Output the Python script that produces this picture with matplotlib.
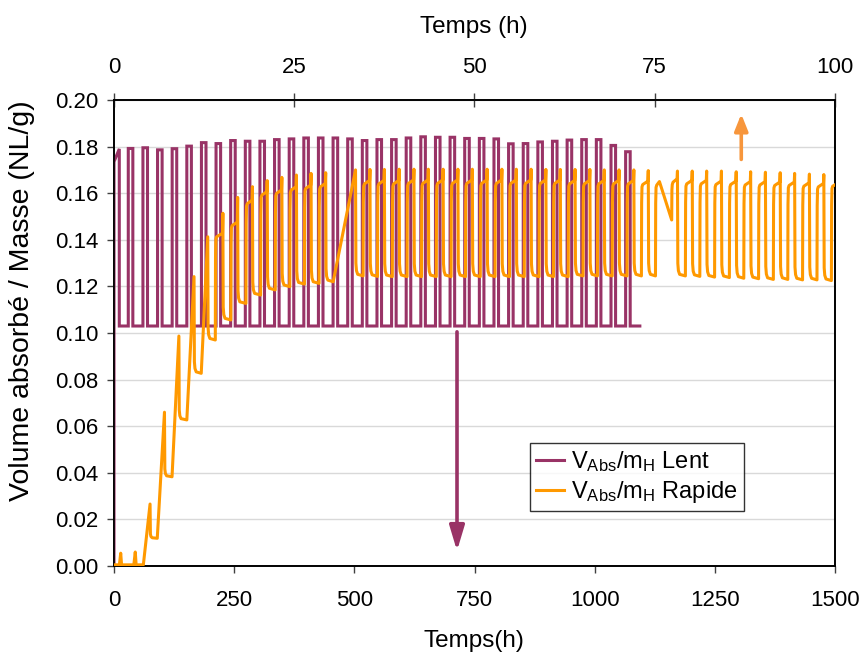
import numpy as np
import matplotlib
matplotlib.use("Agg")
import matplotlib.pyplot as plt
from matplotlib.lines import Line2D

plt.rcParams['font.family'] = ['Liberation Sans', 'DejaVu Sans']
plt.rcParams['mathtext.fontset'] = 'custom'
plt.rcParams['mathtext.rm'] = 'Liberation Sans'
plt.rcParams['mathtext.it'] = 'Liberation Sans:italic'

# ---------------- data ----------------
# "Lent" series (bottom axis, hours): start of each absorption plateau and its level
lent_start = [0, 29.7, 60.2, 90.6, 121.0, 151.5, 181.9, 212.3, 242.7, 273.2, 303.6,
              334.0, 364.5, 394.9, 425.3, 455.8, 486.2, 516.6, 547.1, 577.5, 607.9,
              638.3, 668.8, 699.2, 729.6, 760.1, 790.5, 820.9, 851.4, 881.8, 912.2,
              942.7, 973.1, 1003.5, 1034.0, 1064.4]
lent_high = [0.1790, 0.1792, 0.1795, 0.1786, 0.1791, 0.1802, 0.1817, 0.1813, 0.1826,
             0.1823, 0.1823, 0.1830, 0.1833, 0.1837, 0.1837, 0.1837, 0.1833, 0.1826,
             0.1830, 0.1830, 0.1837, 0.1842, 0.1840, 0.1840, 0.1835, 0.1835, 0.1833,
             0.1812, 0.1813, 0.1820, 0.1823, 0.1828, 0.1830, 0.1830, 0.1805, 0.1778]
lent_high_dur = [11.0] + [9.5] * 35
lent_first = 0.1735
lent_low = 0.103
lent_end = 1094.0

# "Rapide" series (top axis, hours): per cycle rise start, spike time, floor, plateau, spike
rap_rise = [0.75, 2.75, 4.07, 6.0, 8.05, 10.1, 12.1, 14.05, 16.2, 18.3, 20.33, 22.36,
            24.38, 26.41, 28.44, 30.4,
            34.55, 36.55, 38.6, 40.65, 42.65, 44.7, 46.75, 48.75, 50.8, 52.85,
            54.85, 56.9, 58.95, 60.95, 63.0, 65.05, 67.05, 69.1, 71.15, 73.15,
            75.1, 77.35,
            79.25, 81.25, 83.3, 85.35, 87.35, 89.4, 91.45, 93.45, 95.5, 97.5, 99.5]
rap_t = [0.93, 2.95, 5.0, 7.0, 9.0, 11.1, 13.0, 15.1, 17.15, 19.2, 21.25, 23.28,
         25.3, 27.33, 29.36, 33.5,
         35.5, 37.5, 39.55, 41.6, 43.6, 45.65, 47.7, 49.7, 51.75, 53.8,
         55.8, 57.85, 59.9, 61.9, 63.95, 66.0, 68.0, 70.05, 72.1, 74.1,
         75.7, 78.15,
         80.2, 82.2, 84.25, 86.3, 88.3, 90.35, 92.4, 94.4, 96.45, 98.45, 100.5]
rap_floor = [0.0005, 0.0005, 0.0005, 0.0119, 0.0383, 0.0627, 0.0827, 0.0970, 0.1056,
             0.1127, 0.1163, 0.1185, 0.1199, 0.1210, 0.1213, 0.1220,
             0.1245, 0.1243, 0.1242, 0.1242, 0.1242, 0.1242, 0.1242, 0.1242, 0.1242,
             0.1242, 0.1242, 0.1242, 0.1242, 0.1242, 0.1242, 0.1245, 0.1245, 0.1245,
             0.1245, 0.1245,
             0.1245, 0.1485,
             0.1245, 0.1243, 0.1240, 0.1238, 0.1235, 0.1233, 0.1230, 0.1230, 0.1228,
             0.1228, 0.1225]
rap_plat = [np.nan, np.nan, np.nan, np.nan, np.nan, np.nan, np.nan, 0.1428, 0.1476,
            0.1570, 0.1607, 0.1614, 0.1628, 0.1635, 0.1642, np.nan,
            0.1655, 0.1655, 0.1655, 0.1657, 0.1657, 0.1657, 0.1657, 0.1657, 0.1657,
            0.1657, 0.1657, 0.1657, 0.1657, 0.1657, 0.1655, 0.1655, 0.1655, 0.1655,
            0.1655, 0.1652,
            0.1650, 0.1662,
            0.1655, 0.1655, 0.1652, 0.1652, 0.1650, 0.1650, 0.1648, 0.1648, 0.1645,
            0.1642, 0.1645]
rap_peak = [0.0055, 0.0060, 0.0266, 0.0660, 0.0987, 0.1242, 0.1413, 0.1514, 0.1582,
            0.1628, 0.1654, 0.1668, 0.1678, 0.1685, 0.1688, 0.1700,
            0.1702, 0.1702, 0.1703, 0.1703, 0.1703, 0.1703, 0.1703, 0.1703, 0.1703,
            0.1703, 0.1703, 0.1703, 0.1702, 0.1702, 0.1702, 0.1702, 0.1700, 0.1700,
            0.1700, 0.1697,
            np.nan, 0.1695,
            0.1695, 0.1695, 0.1695, 0.1692, 0.1692, 0.1690, 0.1688, 0.1685, 0.1682,
            0.1680, 0.1685]

lent_color = '#993366'
rap_color = '#FF9900'

# ---------------- build traces ----------------
lt, lv = [0.0], [0.0]
for k, (ts, hv, hd) in enumerate(zip(lent_start, lent_high, lent_high_dur)):
    if k == 0:
        lt += [ts, ts + hd, ts + hd]
        lv += [lent_first, hv, lent_low]
    else:
        lt += [ts, ts, ts + hd, ts + hd]
        lv += [lent_low, hv, hv, lent_low]
lt.append(lent_end)
lv.append(lent_low)

rt, rv = [0.0], [0.0005]
n = len(rap_t)
for i in range(n):
    rs, ts, fl, pl, pk = rap_rise[i], rap_t[i], rap_floor[i], rap_plat[i], rap_peak[i]
    rt.append(rs); rv.append(fl)
    if not np.isnan(pl):
        rt += [rs + 0.03, rs + 0.08, rs + 0.18, ts - 0.05]
        rv += [fl + 0.8 * (pl - 0.0015 - fl), pl - 0.0025, pl - 0.0015, pl]
    if np.isnan(pk):
        continue
    rt.append(ts); rv.append(pk)
    if i + 1 < n:
        nf = rap_floor[i + 1]
        d = pk - nf
        if ts < 4:
            rt += [ts + 0.12]
            rv += [nf]
        else:
            rt += [ts + 0.05, ts + 0.13, ts + 0.3]
            rv += [nf + 0.12 * d, nf + 0.05 * d, nf + 0.015 * d]

# ---------------- figure ----------------
W, H = 863, 655
fig = plt.figure(figsize=(W / 100, H / 100), dpi=100)
ax = fig.add_axes([114 / W, 1 - 566 / H, (835 - 114) / W, (566 - 100) / H])

ax.plot(lt, lv, color=lent_color, lw=2.2, solid_joinstyle='miter', zorder=3)
ax.set_xlim(0, 1500)
ax.set_ylim(0, 0.20)
ax.set_xticks([0, 250, 500, 750, 1000, 1250, 1500])
yt = np.arange(0, 0.201, 0.02)
ax.set_yticks(yt)
ax.set_yticklabels([f'{v:.2f}' for v in yt])
ax.yaxis.grid(True, color='#D9D9D9', lw=1.0)
ax.set_axisbelow(True)
ax.tick_params(axis='both', labelsize=16, direction='out', length=5, width=1, color='#404040')
ax.tick_params(axis='x', pad=12)
ax.tick_params(axis='y', pad=6)
for s in ax.spines.values():
    s.set_color('black')
    s.set_linewidth(1.2)

ax2 = ax.twiny()
ax2.plot(rt, rv, color=rap_color, lw=2.2, zorder=3)
ax2.set_xlim(0, 100)
ax2.set_xticks([0, 25, 50, 75, 100])
ax2.tick_params(axis='x', labelsize=16, direction='inout', length=10, width=1,
                color='#404040', pad=11)
for s in ax2.spines.values():
    s.set_color('black')
    s.set_linewidth(1.2)

# axis titles
fig.text(474 / W, 1 - 641 / H, 'Temps(h)', fontsize=17.5, ha='center', va='center')
fig.text(474 / W, 1 - 27 / H, 'Temps (h)', fontsize=17.5, ha='center', va='center')
fig.text(22 / W, 1 - 301 / H, 'Volume absorbé / Masse (NL/g)', fontsize=20.5,
         ha='center', va='center', rotation=90)

# arrows
ax.annotate('', xy=(713.6, 0.0065), xytext=(713.6, 0.1005), xycoords='data',
            arrowprops=dict(arrowstyle='-|>,head_length=1.5,head_width=0.45',
                            color=lent_color, lw=2.6, shrinkA=0, shrinkB=0), zorder=4)
ax2.annotate('', xy=(87.0, 0.1940), xytext=(87.0, 0.1745), xycoords='data',
             arrowprops=dict(arrowstyle='-|>,head_length=1.0,head_width=0.4',
                             color='#F7963C', lw=2.6, shrinkA=0, shrinkB=0), zorder=4)

handles = [Line2D([], [], color=lent_color, lw=2.2),
           Line2D([], [], color=rap_color, lw=2.2)]
labels = [r'V$_{\mathrm{Abs}}$/m$_{\mathrm{H}}$ Lent', r'V$_{\mathrm{Abs}}$/m$_{\mathrm{H}}$ Rapide']
leg = ax2.legend(handles, labels, loc='upper left', bbox_to_anchor=(0.577, 0.264),
                 fontsize=17, frameon=True, fancybox=False, edgecolor='black',
                 handlelength=1.2, handletextpad=0.3, borderpad=0.25, labelspacing=0.22,
                 borderaxespad=0)
leg.get_frame().set_linewidth(1.0)

fig.savefig('out.png', dpi=100)
